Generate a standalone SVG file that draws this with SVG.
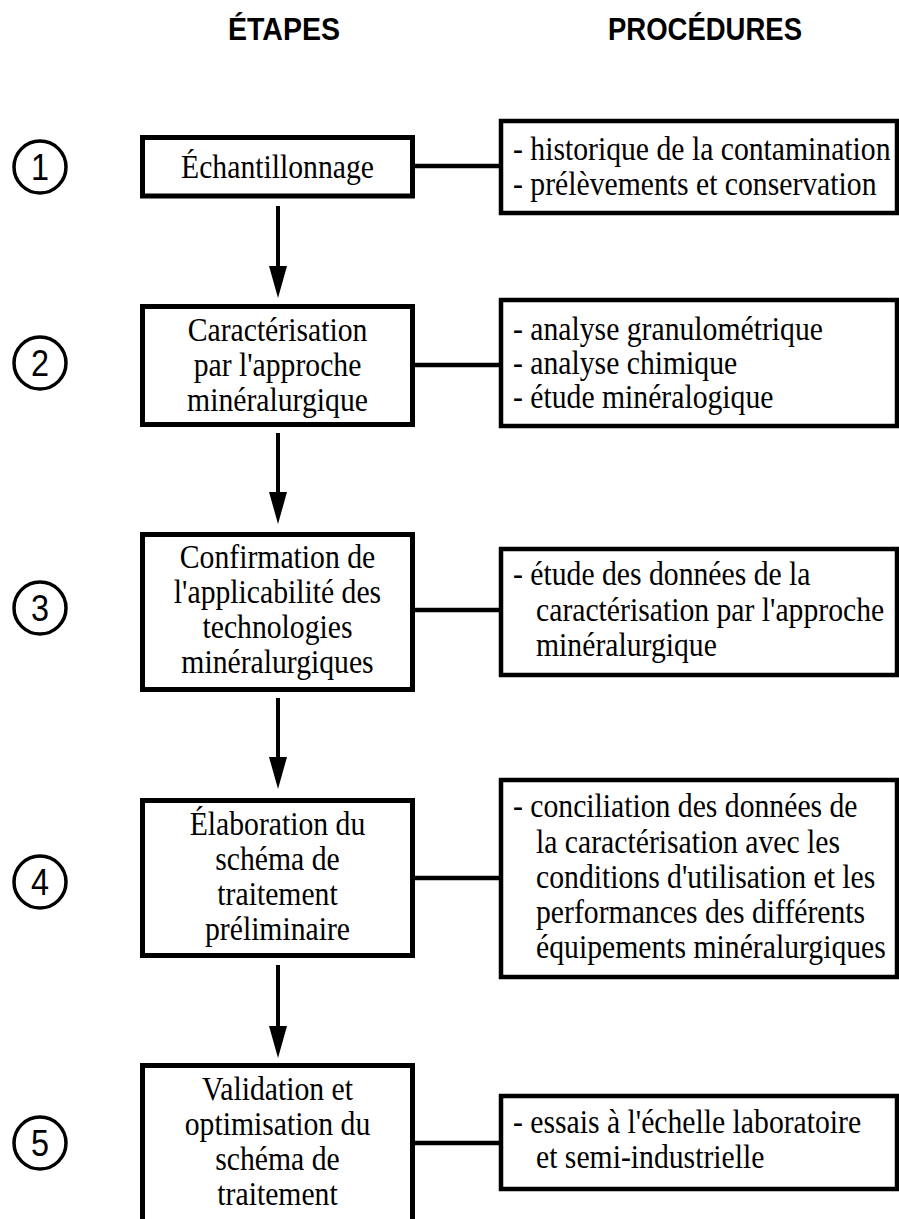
<svg xmlns="http://www.w3.org/2000/svg" width="899" height="1219" viewBox="0 0 899 1219">
  <style>
    .head { font-family: "Liberation Sans", Arial, sans-serif; font-weight: bold; font-size: 32px; fill: #000; text-anchor: middle; }
    .num { font-family: "Liberation Sans", Arial, sans-serif; font-size: 37px; fill: #000; text-anchor: middle; }
    .ring { fill: #fff; stroke: #000; stroke-width: 3.5; }
    .step { fill: #fff; stroke: #000; stroke-width: 5; }
    .proc { fill: #fff; stroke: #000; stroke-width: 4.5; }
    .t { font-family: "Liberation Serif", "Times New Roman", serif; font-size: 33px; fill: #000; }
    .c { text-anchor: middle; }
    .link { stroke: #000; stroke-width: 4.5; fill: none; }
    .flow { stroke: #000; stroke-width: 4; fill: none; marker-end: url(#head); }
  </style>
  <defs>
    <marker id="head" markerUnits="userSpaceOnUse" markerWidth="34" markerHeight="20" refX="0" refY="9" orient="auto" overflow="visible">
      <path d="M0,0 L32,9 L0,18 Z" fill="#000"/>
    </marker>
  </defs>
  <rect width="899" height="1219" fill="#fff"/>

  <g id="headers">
    <text class="head" x="284" y="40" textLength="112" lengthAdjust="spacingAndGlyphs">ÉTAPES</text>
    <text class="head" x="705" y="40" textLength="194" lengthAdjust="spacingAndGlyphs">PROCÉDURES</text>
  </g>

  <!-- connectors: vertical flow arrows and horizontal links -->
  <g id="connectors">
    <path class="flow" d="M278,206 V266"/>
    <path class="flow" d="M278,433 V492"/>
    <path class="flow" d="M278,698 V757"/>
    <path class="flow" d="M278,965 V1026"/>
    <path class="link" d="M412,166 H501"/>
    <path class="link" d="M412,365 H501"/>
    <path class="link" d="M412,610 H501"/>
    <path class="link" d="M412,878 H501"/>
    <path class="link" d="M412,1143 H501"/>
  </g>

  <!-- text is set slightly narrow: centred labels scale around x=277.5, lists around x=513 -->
  <g id="step1">
    <circle class="ring" cx="40" cy="167" r="26"/>
    <text class="num" x="40" y="180" textLength="18" lengthAdjust="spacingAndGlyphs">1</text>
    <rect class="step" x="142.5" y="137.5" width="270" height="58.5"/>
    <g transform="translate(277.5,0) scale(0.9,1)">
      <text class="t c" x="0" y="178">Échantillonnage</text>
    </g>
  </g>
  <g id="proc1">
    <rect class="proc" x="501" y="121" width="396" height="92"/>
    <g transform="translate(513,0) scale(0.9,1)">
      <text class="t" x="0" y="160">- historique de la contamination</text>
      <text class="t" x="0" y="195">- prélèvements et conservation</text>
    </g>
  </g>

  <g id="step2">
    <circle class="ring" cx="40" cy="363" r="26"/>
    <text class="num" x="40" y="376" textLength="18" lengthAdjust="spacingAndGlyphs">2</text>
    <rect class="step" x="142.5" y="306.5" width="270" height="118"/>
    <g transform="translate(277.5,0) scale(0.9,1)">
      <text class="t c" x="0" y="341">Caractérisation</text>
      <text class="t c" x="0" y="376">par l'approche</text>
      <text class="t c" x="0" y="411">minéralurgique</text>
    </g>
  </g>
  <g id="proc2">
    <rect class="proc" x="501" y="300" width="396" height="126"/>
    <g transform="translate(513,0) scale(0.9,1)">
      <text class="t" x="0" y="340">- analyse granulométrique</text>
      <text class="t" x="0" y="374">- analyse chimique</text>
      <text class="t" x="0" y="408">- étude minéralogique</text>
    </g>
  </g>

  <g id="step3">
    <circle class="ring" cx="40" cy="608" r="26"/>
    <text class="num" x="40" y="621" textLength="18" lengthAdjust="spacingAndGlyphs">3</text>
    <rect class="step" x="142.5" y="534.5" width="270" height="155"/>
    <g transform="translate(277.5,0) scale(0.9,1)">
      <text class="t c" x="0" y="568">Confirmation de</text>
      <text class="t c" x="0" y="603">l'applicabilité des</text>
      <text class="t c" x="0" y="638">technologies</text>
      <text class="t c" x="0" y="673">minéralurgiques</text>
    </g>
  </g>
  <g id="proc3">
    <rect class="proc" x="501" y="549" width="396" height="126"/>
    <g transform="translate(513,0) scale(0.9,1)">
      <text class="t" x="0" y="585">- étude des données de la</text>
      <text class="t" x="25.6" y="621">caractérisation par l'approche</text>
      <text class="t" x="25.6" y="656">minéralurgique</text>
    </g>
  </g>

  <g id="step4">
    <circle class="ring" cx="40" cy="882" r="26"/>
    <text class="num" x="40" y="895" textLength="18" lengthAdjust="spacingAndGlyphs">4</text>
    <rect class="step" x="142.5" y="800.5" width="270" height="155"/>
    <g transform="translate(277.5,0) scale(0.9,1)">
      <text class="t c" x="0" y="835">Élaboration du</text>
      <text class="t c" x="0" y="870">schéma de</text>
      <text class="t c" x="0" y="905">traitement</text>
      <text class="t c" x="0" y="940">préliminaire</text>
    </g>
  </g>
  <g id="proc4">
    <rect class="proc" x="501" y="780" width="396" height="197"/>
    <g transform="translate(513,0) scale(0.9,1)">
      <text class="t" x="0" y="817">- conciliation des données de</text>
      <text class="t" x="25.6" y="853">la caractérisation avec les</text>
      <text class="t" x="25.6" y="888">conditions d'utilisation et les</text>
      <text class="t" x="25.6" y="923">performances des différents</text>
      <text class="t" x="25.6" y="958">équipements minéralurgiques</text>
    </g>
  </g>

  <g id="step5">
    <circle class="ring" cx="40" cy="1143" r="26"/>
    <text class="num" x="40" y="1156" textLength="18" lengthAdjust="spacingAndGlyphs">5</text>
    <rect class="step" x="142.5" y="1065.5" width="270" height="170"/>
    <g transform="translate(277.5,0) scale(0.9,1)">
      <text class="t c" x="0" y="1100">Validation et</text>
      <text class="t c" x="0" y="1135">optimisation du</text>
      <text class="t c" x="0" y="1170">schéma de</text>
      <text class="t c" x="0" y="1205">traitement</text>
    </g>
  </g>
  <g id="proc5">
    <rect class="proc" x="501" y="1096" width="396" height="93"/>
    <g transform="translate(513,0) scale(0.9,1)">
      <text class="t" x="0" y="1133">- essais à l'échelle laboratoire</text>
      <text class="t" x="25.6" y="1168">et semi-industrielle</text>
    </g>
  </g>
</svg>
